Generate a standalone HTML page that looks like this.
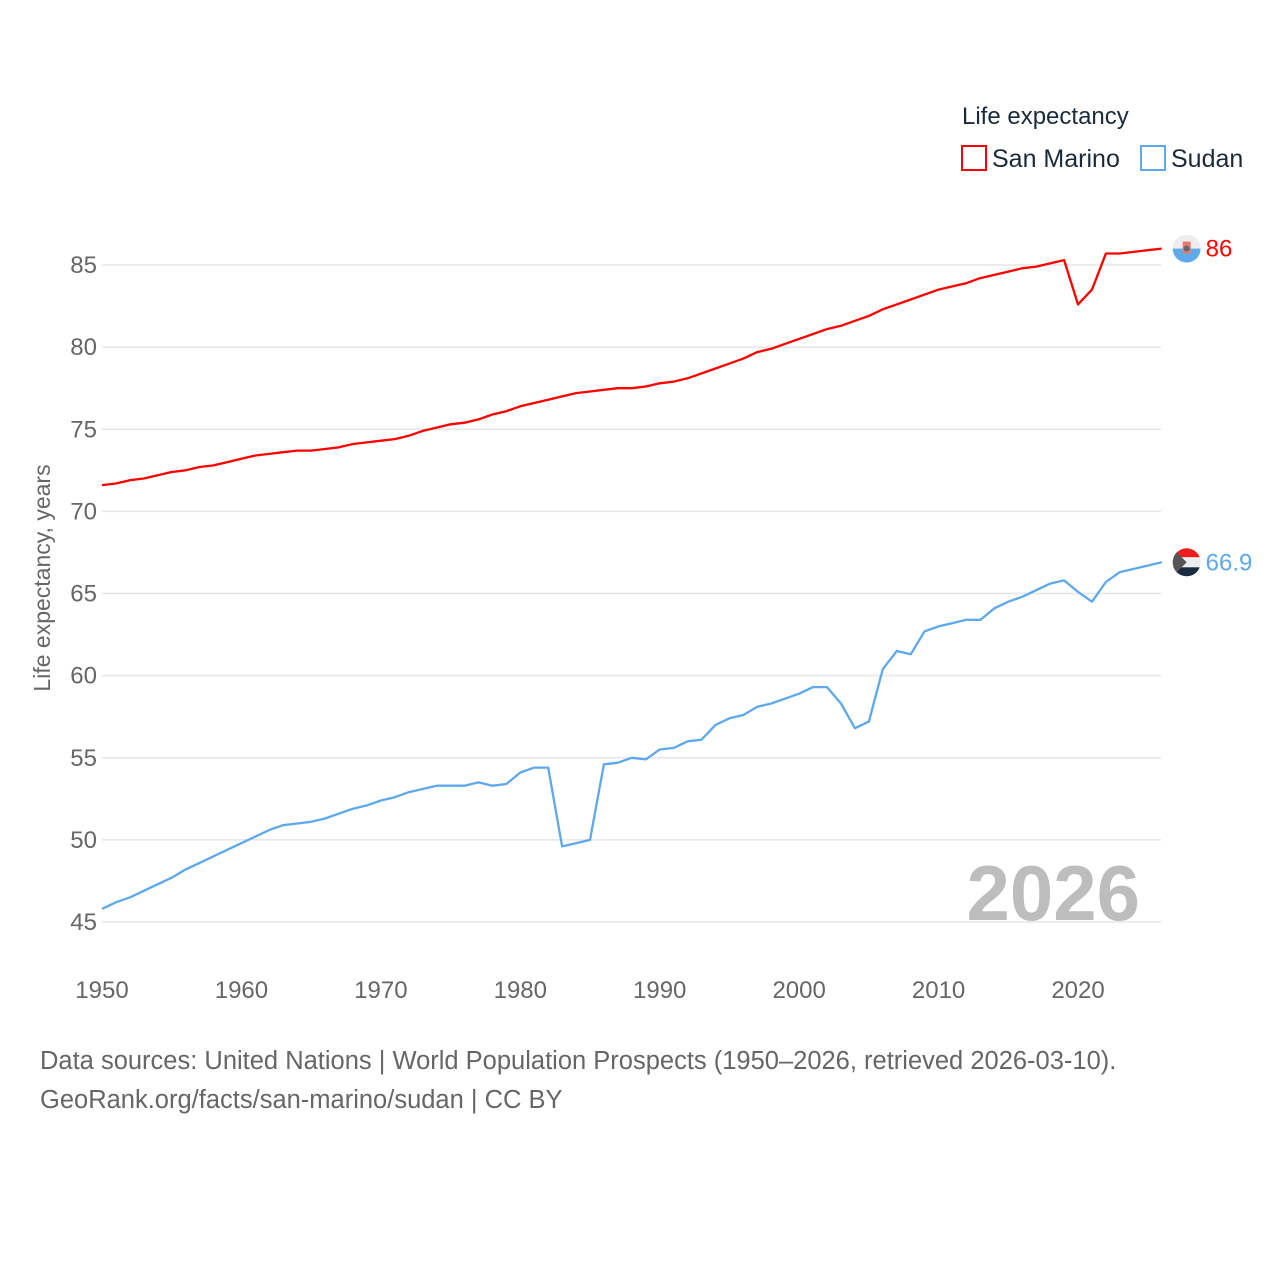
<!DOCTYPE html>
<html><head><meta charset="utf-8"><style>
body{margin:0;background:#fff;}
svg{display:block;font-family:"Liberation Sans",sans-serif;}
</style></head><body>
<svg id="chart" width="1280" height="1280">
<defs>
<clipPath id="cSM"><circle cx="0" cy="0" r="14"/></clipPath>
</defs>
<g id="grid"></g>
<g id="yticks"></g>
<g id="xticks"></g>
<text transform="translate(50,578) rotate(-90)" text-anchor="middle" font-size="23" fill="#666">Life expectancy, years</text>
<text x="1140" y="920" text-anchor="end" font-size="78" font-weight="bold" fill="#bdbdbd">2026</text>
<g>
<text x="962" y="124" font-size="24" fill="#1a2a3a">Life expectancy</text>
<g><rect x="962" y="146" width="24" height="24" fill="none" stroke="#ff0000" stroke-width="2"/><text x="992" y="167" font-size="25" fill="#1a2a3a">San Marino</text></g>
<g><rect x="1141" y="146" width="24" height="24" fill="none" stroke="#5ea8ec" stroke-width="2"/><text x="1171" y="167" font-size="25" fill="#1a2a3a">Sudan</text></g>
</g>
<g id="series"></g>
<text x="40" y="1069" font-size="25.5" fill="#666">Data sources: United Nations | World Population Prospects (1950–2026, retrieved 2026-03-10).</text>
<text x="40" y="1108" font-size="25.5" fill="#666">GeoRank.org/facts/san-marino/sudan | CC BY</text>
</svg>
<script>
const years=[];for(let y=1950;y<=2026;y++)years.push(y);
const sanMarino=[71.6,71.7,71.9,72.0,72.2,72.4,72.5,72.7,72.8,73.0,73.2,73.4,73.5,73.6,73.7,73.7,73.8,73.9,74.1,74.2,74.3,74.4,74.6,74.9,75.1,75.3,75.4,75.6,75.9,76.1,76.4,76.6,76.8,77.0,77.2,77.3,77.4,77.5,77.5,77.6,77.8,77.9,78.1,78.4,78.7,79.0,79.3,79.7,79.9,80.2,80.5,80.8,81.1,81.3,81.6,81.9,82.3,82.6,82.9,83.2,83.5,83.7,83.9,84.2,84.4,84.6,84.8,84.9,85.1,85.3,82.6,83.5,85.7,85.7,85.8,85.9,86.0];
const sudan=[45.8,46.2,46.5,46.9,47.3,47.7,48.2,48.6,49.0,49.4,49.8,50.2,50.6,50.9,51.0,51.1,51.3,51.6,51.9,52.1,52.4,52.6,52.9,53.1,53.3,53.3,53.3,53.5,53.3,53.4,54.1,54.4,54.4,49.6,49.8,50.0,54.6,54.7,55.0,54.9,55.5,55.6,56.0,56.1,57.0,57.4,57.6,58.1,58.3,58.6,58.9,59.3,59.3,58.3,56.8,57.2,60.4,61.5,61.3,62.7,63.0,63.2,63.4,63.4,64.1,64.5,64.8,65.2,65.6,65.8,65.1,64.5,65.7,66.3,66.5,66.7,66.9];
const yTicks=[45,50,55,60,65,70,75,80,85];
const xTicks=[1950,1960,1970,1980,1990,2000,2010,2020];
const labels={sm:"86",sd:"66.9"};
const NS="http://www.w3.org/2000/svg";
const X=v=>102+(v-1950)*13.943;
const Y=v=>265+(85-v)*16.425;
function mk(tag,parent,attrs){const e=document.createElementNS(NS,tag);for(const k in attrs)e.setAttribute(k,attrs[k]);parent.appendChild(e);return e;}
const grid=document.getElementById('grid'),yt=document.getElementById('yticks'),xt=document.getElementById('xticks'),ser=document.getElementById('series');
yTicks.forEach(t=>{
 const l=mk('line',grid,{x1:102,x2:1161,y1:Y(t),y2:Y(t),stroke:'#e6e6e6','stroke-width':1.5});
 
 
 const tx=mk('text',yt,{x:97,y:Y(t)+8,'text-anchor':'end','font-size':24,fill:'#666'});tx.textContent=t;
 
 
});
xTicks.forEach(t=>{
 const tx=mk('text',xt,{x:X(t),y:998,'text-anchor':'middle','font-size':24,fill:'#666'});tx.textContent=t;
 
 
});
function line(vals,color,name,lab,flag){
 const d=vals.map((v,i)=>(i?'L':'M')+X(years[i]).toFixed(1)+','+Y(v).toFixed(1)).join('');
 const p=mk('path',ser,{d:d,fill:'none',stroke:color,'stroke-width':2.3,'stroke-linejoin':'round'});
 
 
 const lx=X(years[years.length-1]),ly=Y(vals[vals.length-1]);
 const g=mk('g',ser,{transform:'translate('+(lx+25)+','+ly+')','clip-path':'url(#cSM)'});
 
 
 flag(g);
 const t=mk('text',ser,{x:lx+44,y:ly+8,'font-size':24,fill:color});t.textContent=lab;
 
 
}
line(sanMarino,'#ff0000','san-marino',labels.sm,g=>{
 mk('rect',g,{x:-15,y:-15,width:30,height:15,fill:'#eeeeee'});
 mk('rect',g,{x:-15,y:0,width:30,height:15,fill:'#5eaaec'});
 mk('rect',g,{x:-4,y:-7,width:8,height:12,fill:'#e87a6a'});
 mk('circle',g,{cx:0,cy:0,r:3,fill:'#666'});
});
line(sudan,'#5ea8ec','sudan',labels.sd,g=>{
 mk('rect',g,{x:-15,y:-15,width:30,height:10,fill:'#ee1c1c'});
 mk('rect',g,{x:-15,y:-5,width:30,height:10,fill:'#eeeeee'});
 mk('rect',g,{x:-15,y:5,width:30,height:10,fill:'#1a2a40'});
 mk('path',g,{d:'M-15,-15L0,0L-15,15Z',fill:'#555'});
});
</script>
</body></html>
